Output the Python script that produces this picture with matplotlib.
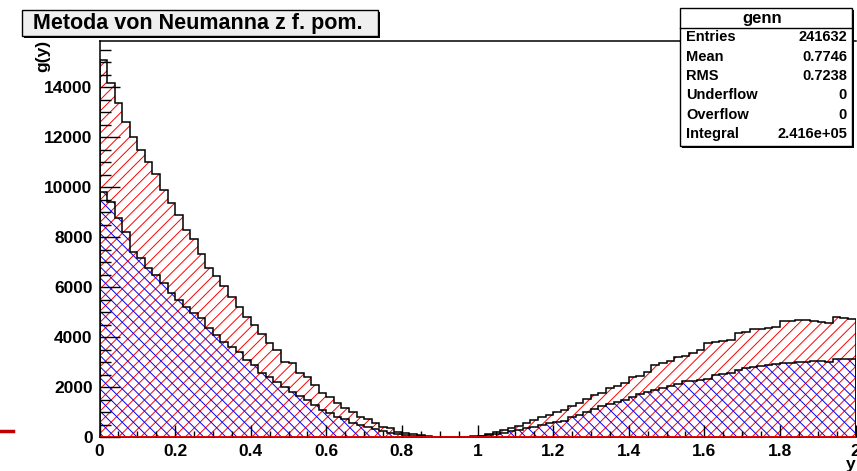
import numpy as np
import matplotlib
matplotlib.use('Agg')
import matplotlib.pyplot as plt
from matplotlib.patches import Rectangle
from matplotlib.lines import Line2D
from matplotlib.ticker import MultipleLocator

plt.rcParams['font.family'] = ['Liberation Sans', 'DejaVu Sans']
plt.rcParams['font.weight'] = 'bold'
plt.rcParams['hatch.linewidth'] = 0.7

# 100 bins on [0, 2]
edges = np.linspace(0, 2, 101)

# red histogram (all generated)
red = [15080, 14150, 13370, 12590, 11990, 11480, 10990, 10510, 9880, 9350,
       8880, 8280, 7920, 7310, 6770, 6450, 6040, 5610, 5210, 4810,
       4480, 4120, 3750, 3480, 3010, 2950, 2570, 2410, 2080, 1770,
       1610, 1370, 1150, 990, 790, 710, 570, 410, 350, 210,
       150, 120, 70, 40, 20, 10, 5, 5, 10, 25,
       40, 120, 210, 280, 350, 450, 570, 680, 790, 880,
       1010, 1080, 1240, 1350, 1510, 1680, 1750, 1950, 2040, 2170,
       2390, 2440, 2610, 2880, 2950, 3040, 3210, 3240, 3350, 3480,
       3770, 3810, 3830, 3880, 4170, 4190, 4310, 4310, 4350, 4410,
       4650, 4650, 4680, 4680, 4650, 4600, 4550, 4790, 4750, 4710]

# blue histogram (accepted)
blue = [9790, 9410, 8750, 8210, 7410, 7150, 6750, 6480, 6150, 5750,
        5480, 5210, 4950, 4750, 4350, 4080, 3810, 3610, 3410, 3080,
        2880, 2570, 2410, 2210, 2010, 1810, 1640, 1480, 1280, 1080,
        950, 810, 710, 570, 480, 390, 310, 250, 170, 120,
        80, 50, 30, 15, 5, 2, 1, 3, 10, 20,
        30, 70, 120, 170, 230, 280, 350, 410, 480, 550,
        610, 660, 810, 880, 1010, 1110, 1240, 1320, 1410, 1480,
        1610, 1720, 1810, 1880, 1950, 2040, 2110, 2250, 2250, 2280,
        2310, 2480, 2520, 2570, 2680, 2750, 2810, 2840, 2880, 2920,
        2950, 2970, 3010, 3010, 3050, 3050, 3010, 3110, 3110, 3110]

stat_names = ['Entries', 'Mean', 'RMS', 'Underflow', 'Overflow', 'Integral']
stat_values = ['241632', '0.7746', '0.7238', '0', '0', '2.416e+05']
xtick_vals = [0, 0.2, 0.4, 0.6, 0.8, 1, 1.2, 1.4, 1.6, 1.8, 2]
xtick_labels = ['0', '0.2', '0.4', '0.6', '0.8', '1', '1.2', '1.4', '1.6', '1.8', '2']
ytick_vals = [0, 2000, 4000, 6000, 8000, 10000, 12000, 14000]

W, H = 857, 471
fig = plt.figure(figsize=(W / 100, H / 100), dpi=100)

def fx(x):
    return x / W

def fy(y):
    return 1 - y / H

ax = fig.add_axes([fx(99.5), fy(437), fx(855.5) - fx(99.5), fy(41) - fy(437)])

ax.stairs(red, edges, fill=True, facecolor='none', edgecolor='red', hatch='///', linewidth=0)
ax.stairs(blue, edges, fill=True, facecolor='none', edgecolor='blue', hatch='\\\\\\', linewidth=0)
ax.stairs(red, edges, color='black', linewidth=1.1)
ax.stairs(blue, edges, color='black', linewidth=1.1)
ax.axhline(0, color='red', linewidth=1.2, zorder=3)

ax.set_xlim(0, 2)
ax.set_ylim(0, 15840)
ax.set_xticks(xtick_vals)
ax.set_xticklabels(xtick_labels)
ax.set_yticks(ytick_vals)
ax.xaxis.set_minor_locator(MultipleLocator(0.05))
ax.yaxis.set_minor_locator(MultipleLocator(500))
ax.tick_params(axis='both', which='both', direction='in', width=1, labelsize=12.5, top=False, right=False)
ax.tick_params(axis='x', which='major', length=8.5, pad=5)
ax.tick_params(axis='x', which='minor', length=4.5)
ax.tick_params(axis='y', which='major', length=14.5, pad=5)
ax.tick_params(axis='y', which='minor', length=8)
for lab in ax.get_xticklabels() + ax.get_yticklabels():
    lab.set_fontweight('bold')
ax.spines['right'].set_visible(False)
for s in ['left', 'bottom', 'top']:
    ax.spines[s].set_linewidth(1.1)

# axis titles
fig.text(fx(43), fy(40), 'g(y)', rotation=90, ha='center', va='top', fontsize=12.5, fontweight='bold')
fig.text(fx(851), fy(464), 'y', ha='center', va='center', fontsize=12.5, fontweight='bold')

# title box with shadow
fig.add_artist(Rectangle((fx(24), fy(38)), fx(378) - fx(22), fy(10) - fy(36),
                         transform=fig.transFigure, facecolor='black', edgecolor='none', zorder=5))
fig.add_artist(Rectangle((fx(22), fy(36)), fx(378) - fx(22), fy(10) - fy(36),
                         transform=fig.transFigure, facecolor='#efefef', edgecolor='black', linewidth=1, zorder=6))
fig.text(fx(198), fy(23.5), 'Metoda von Neumanna z f. pom.', ha='center', va='center',
         fontsize=15.5, fontweight='bold', zorder=7)

# stats box with shadow
fig.add_artist(Rectangle((fx(682), fy(148)), fx(852) - fx(680), fy(8) - fy(146),
                         transform=fig.transFigure, facecolor='black', edgecolor='none', zorder=5))
fig.add_artist(Rectangle((fx(680), fy(146)), fx(852) - fx(680), fy(8) - fy(146),
                         transform=fig.transFigure, facecolor='white', edgecolor='black', linewidth=1, zorder=6))
fig.add_artist(Line2D([fx(680), fx(852)], [fy(28), fy(28)], transform=fig.transFigure,
                      color='black', linewidth=1, zorder=7))
fig.text(fx(762), fy(18), 'genn', ha='center', va='center', fontsize=12, fontweight='bold', zorder=7)
row_y = [37, 57, 76, 95, 115, 134]
for name, val, yy in zip(stat_names, stat_values, row_y):
    fig.text(fx(686), fy(yy), name, ha='left', va='center', fontsize=10.5, fontweight='bold', zorder=7)
    fig.text(fx(847), fy(yy), val, ha='right', va='center', fontsize=10.5, fontweight='bold', zorder=7)

# small red mark on the left edge
fig.add_artist(Line2D([fx(0), fx(13)], [fy(430.5), fy(430.5)], transform=fig.transFigure,
                      color='#c00000', linewidth=2.5))

fig.savefig('out.png', dpi=100)
